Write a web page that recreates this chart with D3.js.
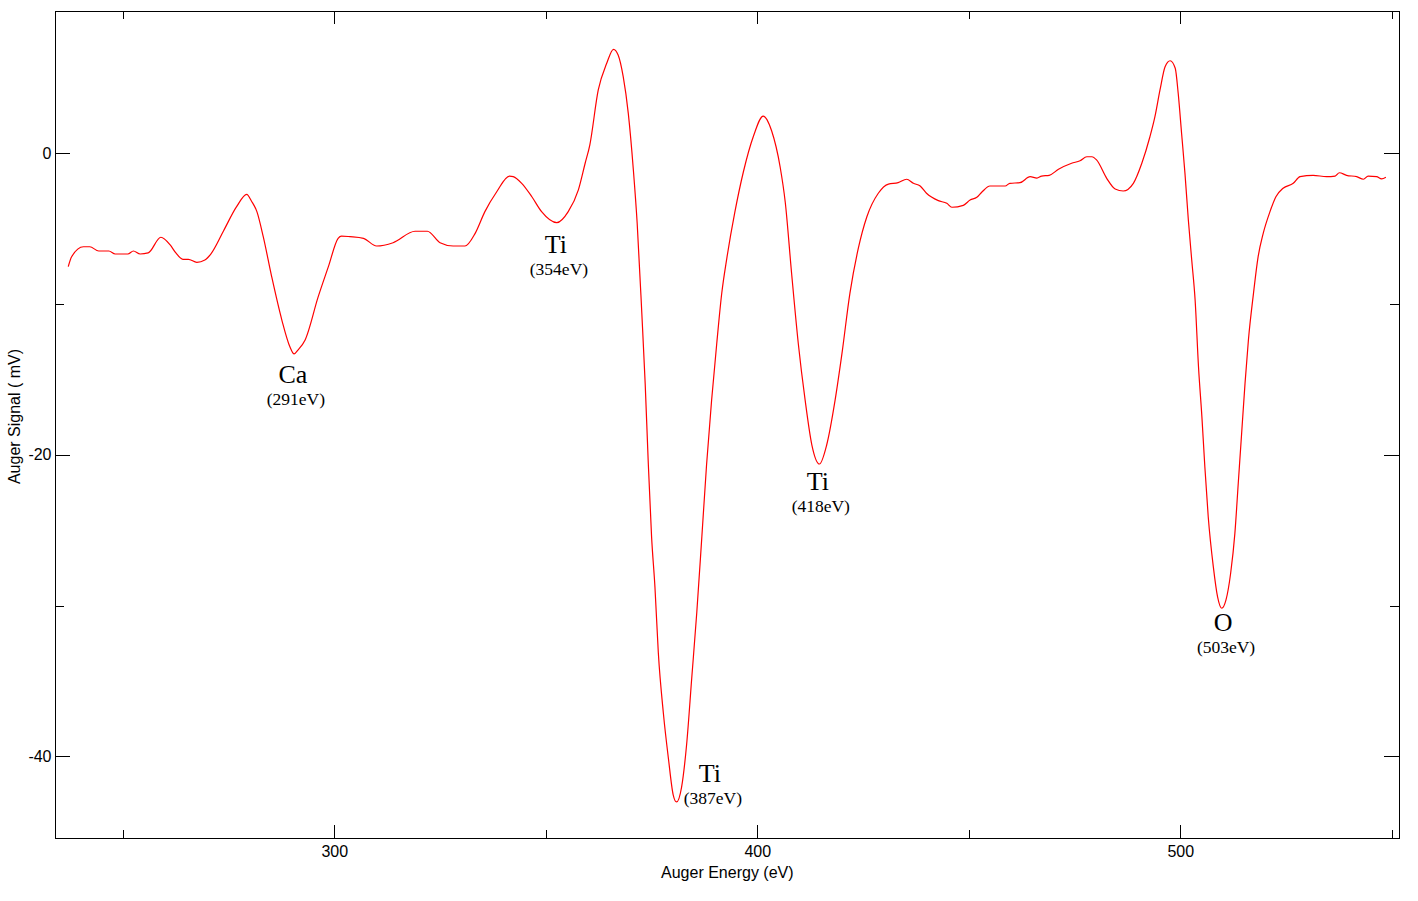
<!DOCTYPE html>
<html>
<head>
<meta charset="utf-8">
<script src="https://cdn.jsdelivr.net/npm/d3@7"></script>
<style>
  body { margin: 0; background: #fff; }
  svg { display: block; }
  .axis text { font-family: "Liberation Sans", Arial, sans-serif; font-size: 16px; fill: #000; }
  .axis line { stroke: #000; shape-rendering: crispEdges; }
  .anno { font-family: "Liberation Serif", "Times New Roman", serif; fill: #000; }
</style>
</head>
<body>
<div id="chart"></div>
<script>
// spectrum: energy (eV) and signal (mV)
var energy = [
  237.1, 237.9, 240.7, 242.2, 244.3, 246.7, 248.2, 251.2, 252.5, 254.1,
  256.0, 259.0, 261.2, 262.5, 264.2, 265.5, 267.5, 269.4, 270.8, 273.8,
  276.9, 279.3, 280.4, 281.7, 283.2, 285.2, 287.6, 289.5, 290.5, 291.4,
  293.1, 296.2, 298.6, 300.9, 301.7, 303.7, 306.9, 310.0, 313.9, 319.1,
  322.0, 325.0, 328.1, 330.9, 333.3, 335.6, 338.4, 341.4, 342.3, 344.3,
  346.7, 349.0, 352.6, 355.3, 357.7, 359.3, 360.4, 362.4, 364.4, 366.0,
  367.1, 368.3, 369.5, 370.7, 371.6, 372.7, 373.5, 374.2, 375.0, 375.8,
  376.6, 377.8, 379.0, 380.1, 380.9, 382.1, 383.3, 384.5, 385.7, 386.9,
  388.0, 389.2, 390.4, 391.6, 392.8, 394.7, 396.7, 399.1, 401.4, 403.4,
  405.4, 406.6, 408.1, 409.7, 411.3, 412.9, 414.7, 416.4, 418.4, 420.0,
  421.9, 423.9, 425.9, 428.6, 431.0, 433.3, 435.3, 436.9, 438.5, 440.0,
  442.8, 444.8, 446.0, 448.7, 450.3, 451.9, 453.1, 455.0, 458.6, 459.7,
  462.1, 464.5, 466.1, 467.2, 469.0, 471.2, 474.3, 476.3, 477.9, 479.1,
  480.2, 482.6, 484.6, 486.5, 488.9, 490.9, 492.8, 494.0, 495.2, 496.4,
  497.6, 498.8, 499.5, 500.3, 501.1, 501.9, 502.7, 503.5, 504.3, 505.1,
  505.8, 506.6, 507.8, 508.8, 509.8, 510.8, 511.9, 512.9, 513.7, 514.5,
  515.3, 516.1, 517.3, 518.4, 519.6, 521.2, 522.6, 524.3, 526.7, 528.3,
  531.4, 534.6, 536.6, 537.6, 539.3, 541.7, 543.3, 544.4, 546.4, 547.6,
  548.6
];
var signal = [
  -7.52, -6.86, -6.20, -6.20, -6.48, -6.48, -6.68, -6.68, -6.48, -6.68,
  -6.61, -5.57, -6.08, -6.59, -7.03, -7.03, -7.23, -7.08, -6.68, -5.15,
  -3.54, -2.72, -3.16, -3.87, -5.53, -8.19, -11.06, -12.83, -13.31, -13.05,
  -12.38, -9.51, -7.52, -5.64, -5.49, -5.53, -5.64, -6.15, -5.93, -5.17,
  -5.17, -5.93, -6.15, -6.15, -5.31, -3.87, -2.55, -1.51, -1.55, -1.99,
  -2.88, -3.87, -4.60, -3.87, -2.43, -0.66, 0.55, 4.20, 5.97, 6.90,
  6.52, 5.08, 2.65, -1.11, -4.64, -10.63, -15.33, -20.37, -25.41, -28.77,
  -33.13, -37.16, -40.18, -42.54, -43.03, -42.04, -39.18, -34.81, -30.43, -25.39,
  -20.68, -16.36, -12.65, -9.27, -6.95, -3.89, -1.24, 1.15, 2.47, 1.48,
  -0.91, -3.23, -7.94, -12.65, -16.36, -19.35, -20.61, -19.35, -16.36, -13.31,
  -9.27, -6.28, -4.21, -2.65, -2.04, -1.95, -1.72, -1.99, -2.17, -2.65,
  -3.14, -3.32, -3.58, -3.45, -3.10, -2.92, -2.57, -2.17, -2.17, -1.99,
  -1.95, -1.55, -1.64, -1.51, -1.46, -1.06, -0.66, -0.49, -0.23, -0.23,
  -0.44, -1.66, -2.37, -2.50, -1.99, -0.66, 1.08, 2.43, 4.20, 5.74,
  6.14, 5.64, 3.98, 1.33, -1.33, -4.42, -7.08, -9.73, -14.16, -17.47,
  -20.79, -24.11, -27.42, -29.41, -30.18, -29.63, -27.86, -25.21, -21.89, -18.57,
  -15.26, -12.38, -9.29, -6.86, -5.31, -3.87, -2.88, -2.32, -1.99, -1.55,
  -1.46, -1.55, -1.51, -1.29, -1.46, -1.55, -1.72, -1.51, -1.55, -1.70,
  -1.59
];

// peak labels
var peakElement = ["Ca", "Ti", "Ti", "Ti", "O"];
var peakEnergy = ["(291eV)", "(354eV)", "(387eV)", "(418eV)", "(503eV)"];
var peakX = [290.2, 352.4, 388.8, 414.3, 510.1];
var peakY = [-15.24, -6.62, -41.71, -22.35, -31.69];

var xMajor = [300, 400, 500];
var xMinor = [250, 350, 450, 550];
var yMajor = [0, -20, -40];
var yMinor = [-10, -30];

var xTitle = "Auger Energy (eV)";
var yTitle = "Auger Signal ( mV)";

var W = 1418, H = 901;
var margin = {top: 11, right: 19, bottom: 63, left: 55};
var width = W - margin.left - margin.right,
    height = H - margin.top - margin.bottom;

var x = d3.scaleLinear().domain([233.97, 551.7]).range([0, width]);
var y = d3.scaleLinear().domain([-45.42, 9.44]).range([height, 0]);

var plain = function (d) { return String(d); };  // keep the plain hyphen in "-40"

var svg = d3.select("#chart").append("svg")
  .attr("width", W)
  .attr("height", H);

var g = svg.append("g")
  .attr("transform", "translate(" + margin.left + "," + margin.top + ")");

/* ticks on all four sides, pointing inward */
function addAxis(axis, tx, ty, labels) {
  var a = g.append("g")
    .attr("class", "axis")
    .attr("transform", "translate(" + tx + "," + ty + ")")
    .call(axis);
  a.select(".domain").remove();
  if (!labels) a.selectAll("text").remove();
  return a;
}

addAxis(d3.axisBottom(x).tickValues(xMajor).tickSize(-13).tickPadding(7.5).tickFormat(plain), 0, height, true);
addAxis(d3.axisBottom(x).tickValues(xMinor).tickSize(-8), 0, height, false);
addAxis(d3.axisTop(x).tickValues(xMajor).tickSize(-13), 0, 0, false);
addAxis(d3.axisTop(x).tickValues(xMinor).tickSize(-8), 0, 0, false);

addAxis(d3.axisLeft(y).tickValues(yMajor).tickSize(-15).tickPadding(3.5).tickFormat(plain), 0, 0, true);
addAxis(d3.axisLeft(y).tickValues(yMinor).tickSize(-9), 0, 0, false);
addAxis(d3.axisRight(y).tickValues(yMajor).tickSize(-15), width, 0, false);
addAxis(d3.axisRight(y).tickValues(yMinor).tickSize(-9), width, 0, false);

// frame
g.append("rect")
  .attr("x", 0.5).attr("y", 0.5)
  .attr("width", width).attr("height", height)
  .attr("fill", "none")
  .attr("stroke", "#000")
  .attr("stroke-width", 1)
  .style("shape-rendering", "crispEdges");

// the spectrum
var pts = energy.map(function (e, i) { return [e, signal[i]]; });
var line = d3.line()
  .x(function (d) { return x(d[0]); })
  .y(function (d) { return y(d[1]); })
  .curve(d3.curveMonotoneX);

g.append("path")
  .datum(pts)
  .attr("d", line)
  .attr("fill", "none")
  .attr("stroke", "#ff0000")
  .attr("stroke-width", 1.2);

// peak annotations
peakElement.forEach(function (el, i) {
  g.append("text")
    .attr("class", "anno")
    .attr("x", x(peakX[i]))
    .attr("y", y(peakY[i]))
    .attr("text-anchor", "middle")
    .style("font-size", "26px")
    .text(el);
  g.append("text")
    .attr("class", "anno")
    .attr("x", x(peakX[i]) + 3)
    .attr("y", y(peakY[i]) + 22)
    .attr("text-anchor", "middle")
    .style("font-size", "17.5px")
    .text(peakEnergy[i]);
});

// axis titles
svg.append("text")
  .attr("x", margin.left + x(400) - 30)
  .attr("y", 878)
  .attr("text-anchor", "middle")
  .style("font-family", "'Liberation Sans', Arial, sans-serif")
  .style("font-size", "16px")
  .text(xTitle);

svg.append("text")
  .attr("transform", "translate(20,416.5) rotate(-90)")
  .attr("text-anchor", "middle")
  .style("font-family", "'Liberation Sans', Arial, sans-serif")
  .style("font-size", "16px")
  .text(yTitle);
</script>
</body>
</html>
